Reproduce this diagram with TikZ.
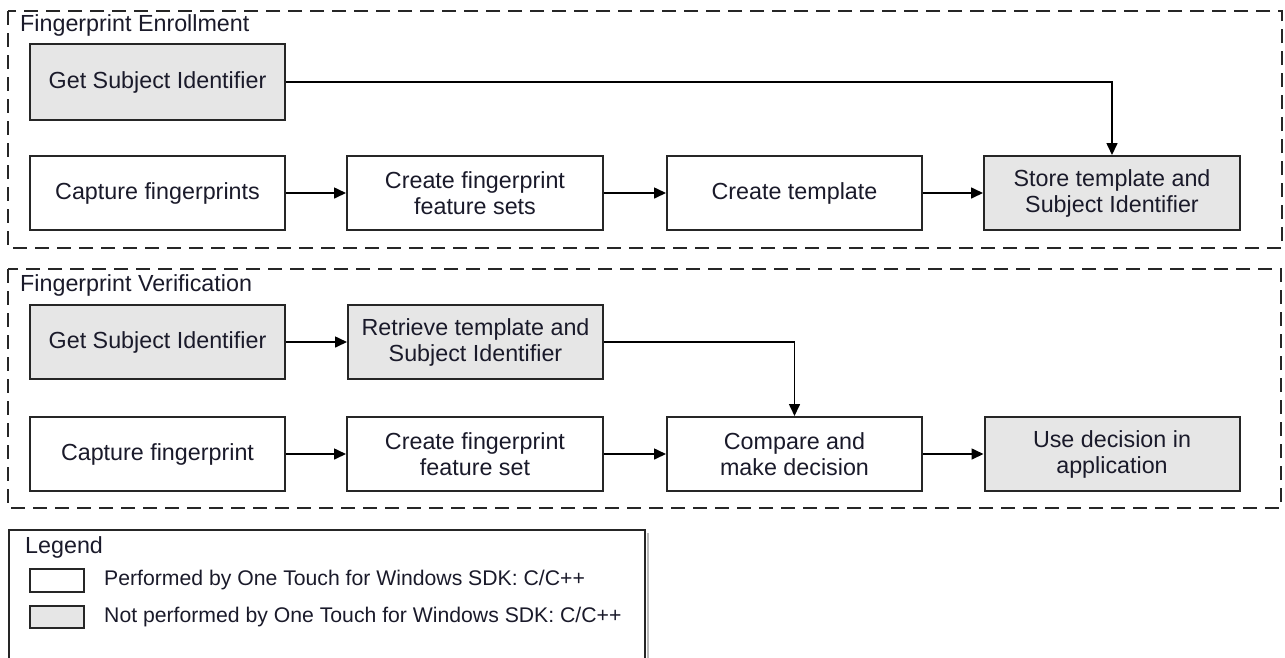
\documentclass[tikz,border=0pt]{standalone}
\usepackage{fontspec}
\setmainfont{Liberation Sans}
\usetikzlibrary{arrows.meta}
\definecolor{boxgray}{HTML}{E6E6E6}
\definecolor{linecol}{HTML}{262626}
\definecolor{txtcol}{HTML}{1A1A2A}
\tikzset{
  stepbox/.style={draw=linecol, line width=2pt, rectangle, minimum width=255pt, minimum height=74pt,
    inner sep=0pt, align=center, font=\fontsize{23.3}{26}\selectfont, fill=white, text=txtcol},
  graybox/.style={stepbox, fill=boxgray},
  arr/.style={draw=black, line width=1.6pt, -{Triangle[length=12pt,width=11pt]}},
  frame/.style={draw=linecol, line width=2pt, dash pattern=on 14pt off 8pt},
  ttl/.style={anchor=west, inner sep=0pt, font=\fontsize{23.3}{26}\selectfont, text=txtcol},
  legtxt/.style={anchor=west, inner sep=0pt, font=\fontsize{21.2}{24}\selectfont, text=txtcol},
  legbox/.style={draw=linecol, line width=1.8pt, minimum width=54pt, minimum height=23pt, inner sep=0pt},
}
\begin{document}
\begin{tikzpicture}[x=1pt,y=-1pt]
\useasboundingbox (0,0) rectangle (1285,657);
% frames
\draw[frame] (8,11) rectangle (1282,248);
\draw[frame] (8,269) rectangle (1281,508);
\node[ttl] (etitle) at (20,25) {Fingerprint Enrollment};
\node[ttl] (vtitle) at (20,285) {Fingerprint Verification};
% enrollment
\node[graybox, minimum height=76pt] (esubj) at (157.5,82) {Get Subject Identifier};
\node[stepbox] (ecap) at (157.5,193) {Capture fingerprints};
\node[stepbox,minimum width=256pt] (efeat) at (475,193) {Create fingerprint\\feature sets};
\node[stepbox] (etmpl) at (794.5,193) {Create template};
\node[graybox,minimum width=256pt] (estore) at (1112,193) {Store template and\\Subject Identifier};
\draw[arr] (esubj.east) -| (estore.north);
\draw[arr] (ecap) -- (efeat);
\draw[arr] (efeat) -- (etmpl);
\draw[arr] (etmpl) -- (estore);
% verification
\node[graybox] (vsubj) at (157.5,342) {Get Subject Identifier};
\node[graybox] (vret) at (475.5,342) {Retrieve template and\\Subject Identifier};
\node[stepbox] (vcap) at (157.5,454) {Capture fingerprint};
\node[stepbox,minimum width=256pt] (vfeat) at (475,454) {Create fingerprint\\feature set};
\node[stepbox] (vcmp) at (794.5,454) {Compare and\\make decision};
\node[graybox] (vuse) at (1112,454) {Use decision in\\application};
\draw[arr] (vsubj) -- (vret);
\draw[arr] (vret.east) -| (vcmp.north);
\draw[arr] (vcap) -- (vfeat);
\draw[arr] (vfeat) -- (vcmp);
\draw[arr] (vcmp) -- (vuse);
% legend
\draw[gray!55, line width=2pt] (647.5,533) -- (647.5,660);
\draw[draw=linecol, line width=2pt] (9,530) rectangle (645,661);
\node[ttl] (legt) at (25,547) {Legend};
\node[legbox, fill=white] (lw) at (57,580.5) {};
\node[legbox, fill=boxgray, minimum height=22pt] (lg) at (57,617) {};
\node[legtxt] (lwt) at (104,580.5) {Performed by One Touch for Windows SDK: C/C++};
\node[legtxt] (lgt) at (104,617) {Not performed by One Touch for Windows SDK: C/C++};
\end{tikzpicture}
\end{document}
